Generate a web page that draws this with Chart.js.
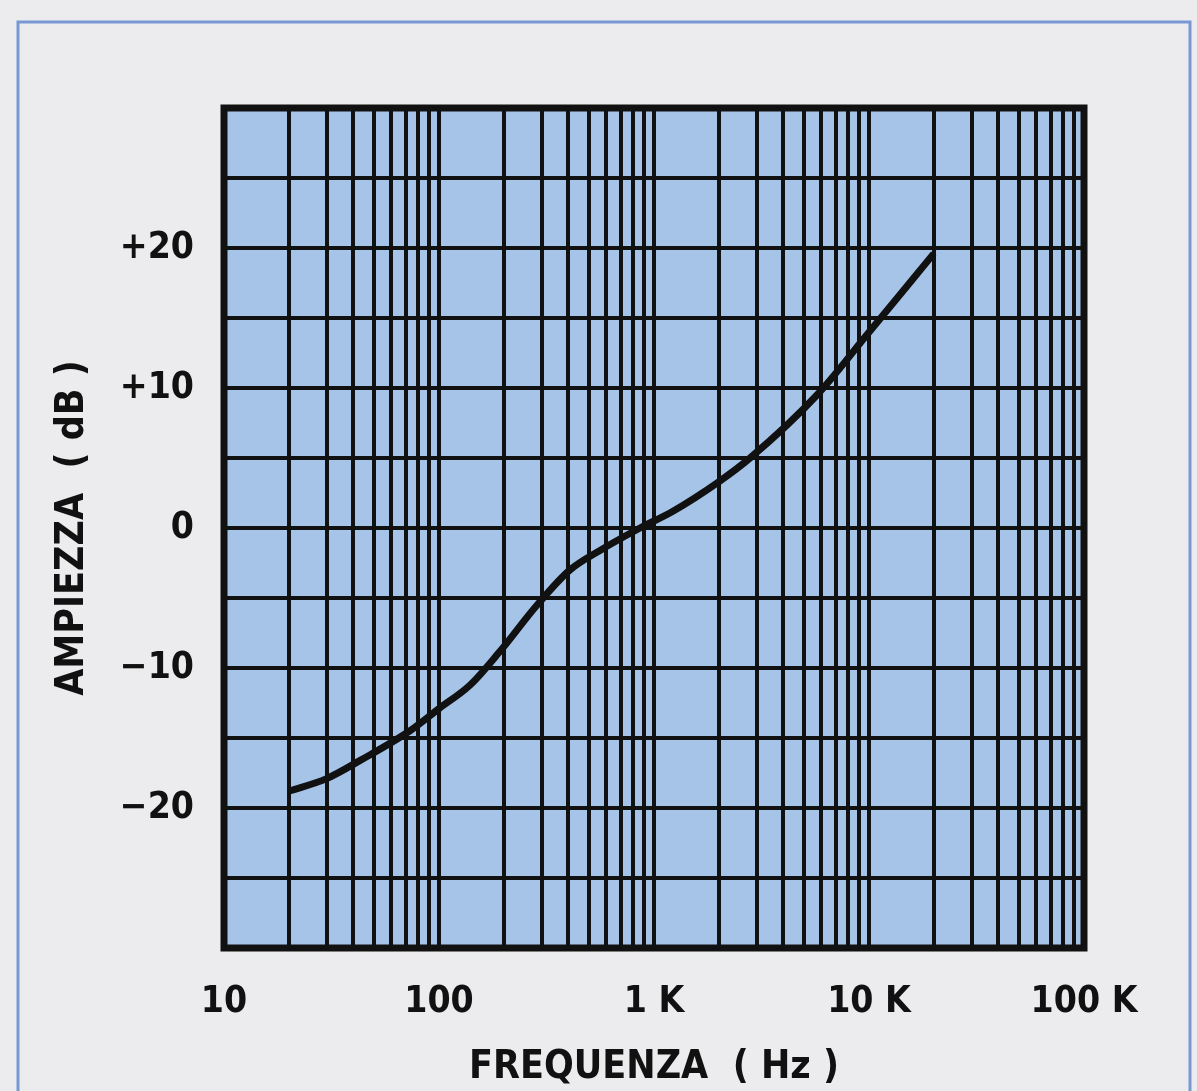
<!DOCTYPE html>
<html>
<head>
<meta charset="utf-8">
<script src="https://cdn.jsdelivr.net/npm/chart.js@4/dist/chart.umd.min.js"></script>
<style>
  html, body { margin: 0; padding: 0; background: #ececee; }
  canvas { display: block; }
</style>
</head>
<body>
<canvas id="c" width="1197" height="1091"></canvas>
<script>
// ---- data ----
const freqHz = [20, 30, 43, 73, 100, 140, 190, 286, 406, 561, 861, 1225, 2000, 2797, 5730, 9780, 20000];
const ampDb  = [-18.8, -17.9, -16.6, -14.5, -12.9, -11.2, -8.9, -5.5, -3.0, -1.6, 0, 1.2, 3.3, 5, 9.5, 13.8, 19.6];

const xTickValues = [10, 100, 1000, 10000, 100000];
const xTickLabels = ['10', '100', '1 K', '10 K', '100 K'];
const yTickValues = [20, 10, 0, -10, -20];
const yTickLabels = ['+20', '+10', '0', '\u221210', '\u221220'];

const xTitle = 'FREQUENZA  ( Hz )';
const yTitle = 'AMPIEZZA  ( dB )';

// grid positions for log paper: 1..9 in every decade
const xGridValues = [];
for (let d = 10; d < 100000; d *= 10) {
  for (let m = 1; m <= 9; m++) xGridValues.push(d * m);
}
xGridValues.push(100000);

const FONT = "'Liberation Sans Narrow', 'DejaVu Sans Condensed', 'Liberation Sans', sans-serif";

const decor = {
  id: 'decor',
  beforeDraw(chart) {
    const ctx = chart.ctx;
    const a = chart.chartArea;
    ctx.save();
    ctx.fillStyle = '#ececee';
    ctx.fillRect(0, 0, chart.width, chart.height);
    ctx.strokeStyle = '#7898d4';
    ctx.lineWidth = 3;
    ctx.strokeRect(18, 22, 1172, 1100);
    ctx.fillStyle = '#a6c4e8';
    ctx.fillRect(a.left, a.top, a.right - a.left, a.bottom - a.top);
    ctx.restore();
  },
  afterDraw(chart) {
    const ctx = chart.ctx;
    const a = chart.chartArea;
    ctx.save();
    ctx.strokeStyle = '#111';
    ctx.lineWidth = 7;
    ctx.strokeRect(a.left, a.top, a.right - a.left, a.bottom - a.top);
    ctx.restore();
  }
};

new Chart(document.getElementById('c'), {
  type: 'line',
  data: {
    datasets: [{
      data: freqHz.map((f, i) => ({ x: f, y: ampDb[i] })),
      borderColor: '#111',
      borderWidth: 7,
      pointRadius: 0,
      fill: false,
      cubicInterpolationMode: 'monotone',
      borderCapStyle: 'butt'
    }]
  },
  options: {
    responsive: false,
    animation: false,
    layout: { padding: { left: 0, top: 108, right: 113, bottom: 0 } },
    plugins: { legend: { display: false }, tooltip: { enabled: false } },
    scales: {
      x: {
        type: 'logarithmic',
        min: 10,
        max: 100000,
        afterBuildTicks(scale) {
          scale.ticks = xGridValues.map(v => ({ value: v }));
        },
        afterFit(scale) { scale.height = 143; },
        grid: { color: '#111', lineWidth: 4, drawTicks: false },
        border: { display: false },
        ticks: {
          autoSkip: false,
          maxRotation: 0,
          padding: 32,
          color: '#111',
          font: { family: FONT, size: 37, weight: 'bold' },
          callback(value) {
            const i = xTickValues.indexOf(value);
            return i >= 0 ? xTickLabels[i] : '';
          }
        },
        title: {
          display: true,
          text: xTitle,
          color: '#111',
          font: { family: FONT, size: 39, weight: 'bold' },
          padding: { top: 0, bottom: 0 }
        }
      },
      y: {
        min: -30,
        max: 30,
        afterFit(scale) { scale.width = 224; },
        grid: { color: '#111', lineWidth: 4, drawTicks: false },
        border: { display: false },
        ticks: {
          stepSize: 5,
          autoSkip: false,
          padding: 30,
          color: '#111',
          font: { family: FONT, size: 37, weight: 'bold' },
          callback(value) {
            const i = yTickValues.indexOf(value);
            return i >= 0 ? yTickLabels[i] : '';
          }
        },
        title: {
          display: true,
          text: yTitle,
          color: '#111',
          font: { family: FONT, size: 39, weight: 'bold' },
          padding: { top: 49, bottom: 0 }
        }
      }
    }
  },
  plugins: [decor]
});
</script>
</body>
</html>
